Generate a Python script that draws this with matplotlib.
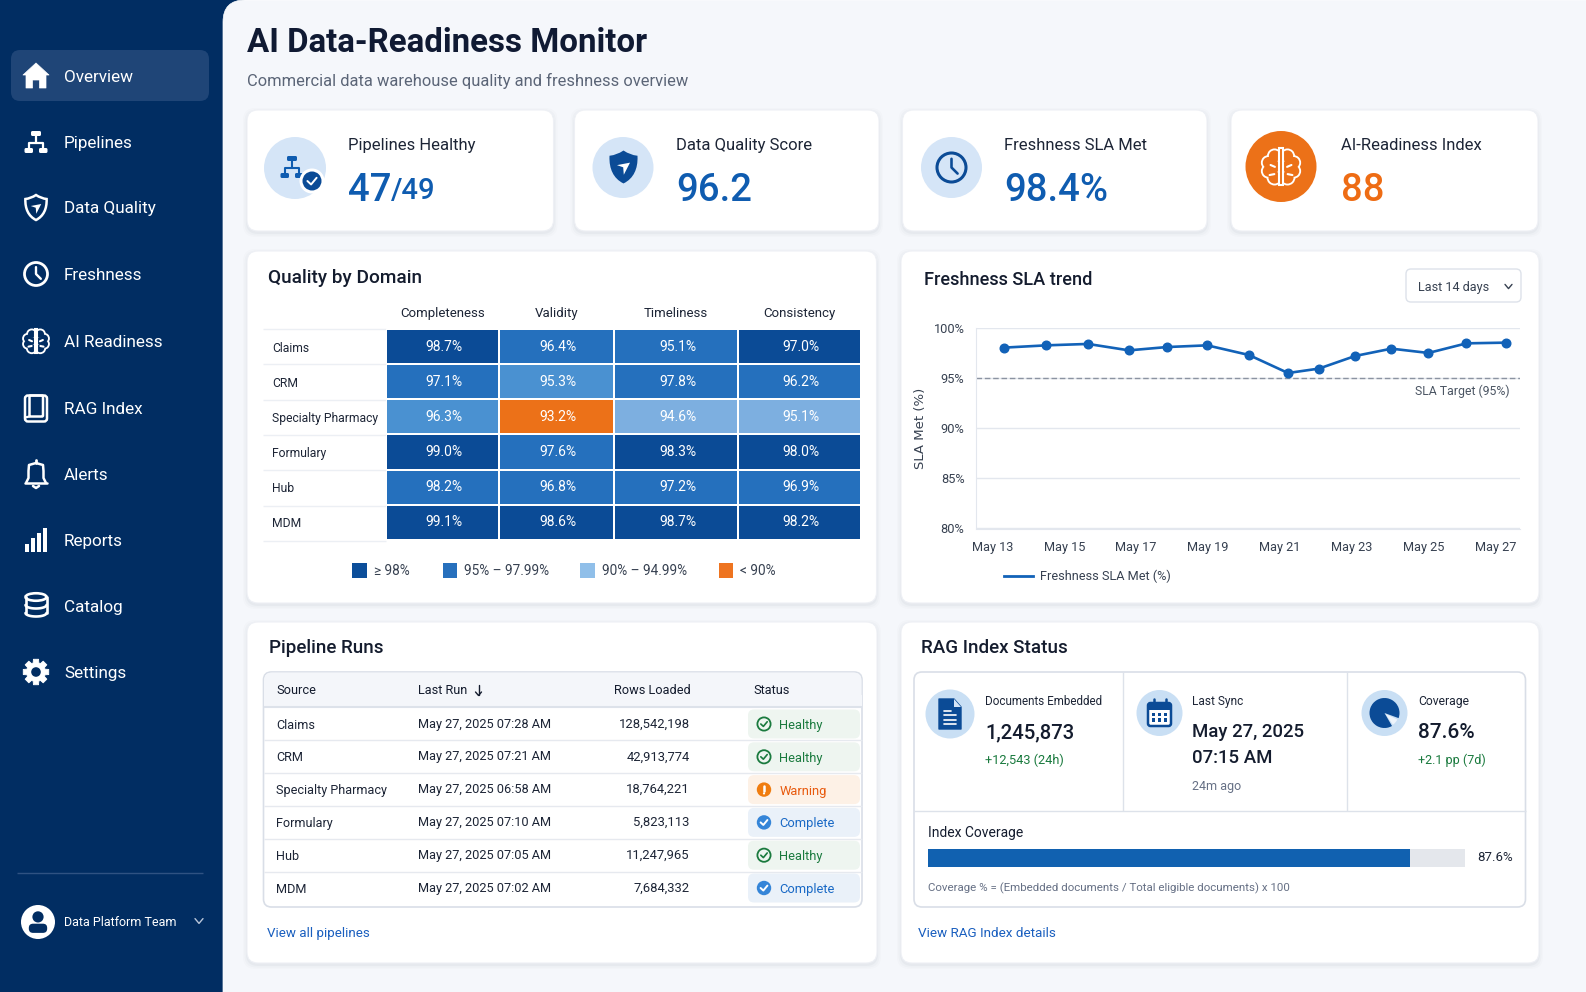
import numpy as np
import matplotlib
matplotlib.use('Agg')
import matplotlib.pyplot as plt
from matplotlib.colors import ListedColormap
from matplotlib.lines import Line2D
from matplotlib.patches import Circle, Ellipse, FancyBboxPatch, PathPatch, Polygon, Rectangle, Wedge
from matplotlib.path import Path

plt.rcParams['font.family'] = ['Roboto', 'DejaVu Sans']

# data
nav_items = ['Overview', 'Pipelines', 'Data Quality', 'Freshness', 'AI Readiness',
             'RAG Index', 'Alerts', 'Reports', 'Catalog', 'Settings']

kpi_labels = ['Pipelines Healthy', 'Data Quality Score', 'Freshness SLA Met', 'AI-Readiness Index']
kpi_values = ['47', '96.2', '98.4%', '88']

domains = ['Claims', 'CRM', 'Specialty Pharmacy', 'Formulary', 'Hub', 'MDM']
dimensions = ['Completeness', 'Validity', 'Timeliness', 'Consistency']
quality = [[98.7, 96.4, 95.1, 97.0],
           [97.1, 95.3, 97.8, 96.2],
           [96.3, 93.2, 94.6, 95.1],
           [99.0, 97.6, 98.3, 98.0],
           [98.2, 96.8, 97.2, 96.9],
           [99.1, 98.6, 98.7, 98.2]]
# shade seen in each cell, does not follow the legend bins exactly
cell_shade = [[0, 1, 1, 0],
              [1, 2, 1, 1],
              [2, 4, 3, 3],
              [0, 1, 0, 0],
              [1, 1, 1, 1],
              [0, 0, 0, 0]]
shade_colors = ['#0b4b96', '#2570bd', '#4a91d1', '#7dafe0', '#ec7118']
legend_labels = ['\u2265 98%', '95% \u2013 97.99%', '90% \u2013 94.99%', '< 90%']
legend_colors = ['#0c4e9a', '#2770bd', '#90bfe9', '#ee7420']

trend_day = [13.31, 14.50, 15.66, 16.80, 17.86, 18.98, 20.14, 21.23, 22.09, 23.10, 24.11, 25.14, 26.20, 27.30]
trend_pct = [98.04, 98.27, 98.41, 97.77, 98.10, 98.27, 97.31, 95.51, 95.95, 97.21, 97.94, 97.51, 98.47, 98.54]
tick_days = [13, 15, 17, 19, 21, 23, 25, 27]
tick_pcts = [80, 85, 90, 95, 100]
sla_target = 95

sources = ['Claims', 'CRM', 'Specialty Pharmacy', 'Formulary', 'Hub', 'MDM']
last_runs = ['May 27, 2025 07:28 AM', 'May 27, 2025 07:21 AM', 'May 27, 2025 06:58 AM',
             'May 27, 2025 07:10 AM', 'May 27, 2025 07:05 AM', 'May 27, 2025 07:02 AM']
rows_loaded = ['128,542,198', '42,913,774', '18,764,221', '5,823,113', '11,247,965', '7,684,332']
run_status = ['Healthy', 'Healthy', 'Warning', 'Complete', 'Healthy', 'Complete']

coverage_pct = 87.6
# the fill ends about 90% along the track in the picture
coverage_track = 97.6

W, H = 1586, 992
NAVY = '#012d62'
BG = '#f5f7fb'
INK = '#141c2e'
BLUE = '#0f5cb0'
ORANGE = '#ee6c14'
GREEN = '#1a7a3e'
GRAY = '#667085'
LINE = '#e3e7ee'
ICON_BG = '#d5e5f7'

fig = plt.figure(figsize=(W / 100, H / 100), dpi=100, facecolor=NAVY)
canvas = fig.add_axes([0, 0, 1, 1])
canvas.set_xlim(0, W)
canvas.set_ylim(H, 0)
canvas.axis('off')
canvas.autoscale(False)


def axes_px(x0, y0, x1, y1):
    return fig.add_axes([x0 / W, 1 - y1 / H, (x1 - x0) / W, (y1 - y0) / H])


def text(x, y, s, size, color=INK, weight='normal', ha='left', **kw):
    # va center sits a little high for this font, push it down with the size
    return canvas.text(x, y + 0.11 * size, s, fontsize=size, color=color, weight=weight, ha=ha, va='center', **kw)


def rbox(x0, y0, x1, y1, r, fc, ec='none', lw=1, z=1, alpha=None):
    p = FancyBboxPatch((x0 + r, y0 + r), x1 - x0 - 2 * r, y1 - y0 - 2 * r,
                       boxstyle=f'round,pad={r},rounding_size={r}',
                       fc=fc, ec=ec, lw=lw, zorder=z, alpha=alpha)
    canvas.add_patch(p)
    return p


def card(x0, y0, x1, y1):
    for grow, a in ((4, 0.012), (2.5, 0.02), (1, 0.03)):
        rbox(x0 - grow, y0 - grow + 2, x1 + grow, y1 + grow + 2, 12, '#1b2a4a', z=1, alpha=a)
    rbox(x0, y0, x1, y1, 11, 'white', '#eef0f5', 0.8, z=2)


def stroke(xs, ys, color, lw=1.6, z=5, cap='round'):
    canvas.plot(xs, ys, color=color, lw=lw, zorder=z, solid_capstyle=cap, solid_joinstyle='round')


def dot(x, y, r, fc, ec='none', lw=1, z=5):
    canvas.add_patch(Circle((x, y), r, fc=fc, ec=ec, lw=lw, zorder=z))


def chevron(x, y, s, color, lw=1):
    stroke([x - s, x, x + s], [y - s * 0.6, y + s * 0.6, y - s * 0.6], color, lw)


def check(x, y, s, color, lw=1.4, z=6):
    stroke([x - s, x - s * 0.2, x + s], [y, y + s * 0.75, y - s * 0.7], color, lw, z)


# icons, all drawn around a centre point in pixels
def icon_house(x, y, c):
    canvas.add_patch(Polygon([(x - 13, y - 1), (x, y - 13), (x + 13, y - 1), (x + 10, y - 1), (x + 10, y + 12),
                              (x + 3.5, y + 12), (x + 3.5, y + 4), (x - 3.5, y + 4), (x - 3.5, y + 12),
                              (x - 10, y + 12), (x - 10, y - 1)], fc=c, ec=c, lw=0.5, joinstyle='round', zorder=5))


def icon_pipeline(x, y, c, s=1.0, lw=1.6):
    rbox(x - 5 * s, y - 11 * s, x + 5 * s, y - 6 * s, 1.5 * s, c, z=5)
    rbox(x - 11.5 * s, y + 6 * s, x - 3 * s, y + 11 * s, 1.5 * s, c, z=5)
    rbox(x + 3 * s, y + 6 * s, x + 11.5 * s, y + 11 * s, 1.5 * s, c, z=5)
    stroke([x, x], [y - 6 * s, y + 1 * s], c, lw)
    stroke([x - 7 * s, x - 7 * s, x + 7 * s, x + 7 * s], [y + 6 * s, y + 1 * s, y + 1 * s, y + 6 * s], c, lw)


def shield_path(x, y, s):
    v = [(0, -1), (.42, -.72), (.85, -.68), (.88, .1), (.6, .7), (0, 1),
         (-.6, .7), (-.88, .1), (-.85, -.68), (-.42, -.72), (0, -1), (0, -1)]
    codes = [Path.MOVETO, Path.CURVE3, Path.CURVE3, Path.CURVE4, Path.CURVE4, Path.CURVE4,
             Path.CURVE4, Path.CURVE4, Path.CURVE4, Path.CURVE3, Path.CURVE3, Path.CLOSEPOLY]
    return Path([(x + a * s, y + b * s) for a, b in v], codes)


def icon_shield(x, y, c, s=12.5, lw=1.8, filled=False):
    canvas.add_patch(PathPatch(shield_path(x, y, s), fc=c if filled else 'none', ec=c, lw=lw, zorder=5))
    mark = 'white' if filled else c
    canvas.add_patch(Polygon([(x - s * .42, y - s * .12), (x + s * .42, y - s * .28), (x + s * .02, y + s * .5),
                              (x - s * .02, y + s * .02)], fc=mark, ec='none', zorder=6))


def icon_clock(x, y, c, r=11.5, lw=2):
    dot(x, y, r, 'none', c, lw)
    stroke([x, x, x + r * .42], [y - r * .6, y, y + r * .42], c, lw * 0.85)


def icon_brain(x, y, s, fg, bg, lw=1.5):
    lobes = [(.34, -.55, .3), (.66, -.2, .3), (.66, .24, .3), (.34, .58, .32), (.3, 0, .3)]
    gap = lw * 1.25
    for sign in (-1, 1):
        for a, b, r in lobes:
            dot(x + sign * a * s, y + b * s, r * s + gap, fg, z=5)
    for sign in (-1, 1):
        for a, b, r in lobes:
            dot(x + sign * a * s, y + b * s, r * s, bg, z=6)
    canvas.add_patch(Rectangle((x - .1 * s, y - .95 * s), .2 * s, 1.9 * s, fc=bg, ec=fg, lw=lw, zorder=7))
    for sign in (-1, 1):
        stroke([x + sign * .55 * s, x + sign * .32 * s], [y - .08 * s, y + .02 * s], fg, lw, 7)
        stroke([x + sign * .6 * s, x + sign * .35 * s], [y + .45 * s, y + .4 * s], fg, lw, 7)


def icon_book(x, y, c):
    rbox(x - 11, y - 13, x + 11, y + 13, 3, 'none', c, 1.8, z=5)
    rbox(x - 6.5, y - 13, x + 7, y + 8, 1, 'none', c, 1.8, z=5)
    stroke([x - 11, x - 6.5], [y + 9, y + 8], c, 1.6)


def icon_bell(x, y, c):
    v = [(-9.5, 8), (-7.5, 4), (-7.5, -3), (-7, -9), (0, -11), (7, -9), (7.5, -3), (7.5, 4), (9.5, 8)]
    canvas.plot([x + a for a, b in v], [y + b for a, b in v], color=c, lw=1.8, zorder=5)
    stroke([x - 11, x + 11], [y + 8.5, y + 8.5], c, 1.8)
    stroke([x, x], [y - 14, y - 11.5], c, 2)
    stroke([x - 3, x, x + 3], [y + 12, y + 14, y + 12], c, 1.8)


def icon_bars(x, y, c):
    for dx, h in zip((-9, -3, 3, 9), (8, 14, 19, 24)):
        canvas.add_patch(Rectangle((x + dx - 1.7, y + 12 - h), 3.4, h, fc=c, ec='none', zorder=5))


def icon_db(x, y, c):
    canvas.add_patch(Ellipse((x, y - 9), 21, 7.5, fc='none', ec=c, lw=1.9, zorder=5))
    for dy in (-1, 7):
        t = np.linspace(0, np.pi, 24)
        stroke(x + 10.5 * np.cos(t), y + dy + 3.5 * np.sin(t), c, 1.9)
    stroke([x - 10.5, x - 10.5], [y - 9, y + 7], c, 1.9)
    stroke([x + 10.5, x + 10.5], [y - 9, y + 7], c, 1.9)


def icon_gear(x, y, c, bg):
    n = 8
    pts = []
    for i in range(n):
        a = 2 * np.pi * i / n
        for da, r in ((-.30, 9.5), (-.20, 13), (.20, 13), (.30, 9.5)):
            pts.append((x + r * np.cos(a + da), y + r * np.sin(a + da)))
    canvas.add_patch(Polygon(pts, fc=c, ec=c, lw=0.6, zorder=5, joinstyle='round'))
    dot(x, y, 4.8, bg, z=6)


def icon_doc(x, y):
    canvas.add_patch(Polygon([(x - 11, y - 15), (x + 4, y - 15), (x + 11, y - 7), (x + 11, y + 15), (x - 11, y + 15)],
                             fc='#0b4b96', ec='#0b4b96', lw=1, joinstyle='round', zorder=5))
    canvas.add_patch(Polygon([(x + 4, y - 15), (x + 11, y - 7), (x + 4, y - 7)], fc='#d5e5f7', ec='none', zorder=6))
    for dy, x1 in ((-3, 1), (1, 6), (5.5, 6), (10, 6)):
        stroke([x - 6, x + x1], [y + dy, y + dy], 'white', 1.2, 6)


def icon_calendar(x, y):
    rbox(x - 11.5, y - 10, x + 11.5, y + 13, 2.5, 'white', '#0b4b96', 1.8, z=5)
    canvas.add_patch(Rectangle((x - 11.5, y - 9), 23, 6, fc='#0b4b96', ec='none', zorder=6))
    stroke([x - 6, x - 6], [y - 14, y - 9], '#0b4b96', 1.8)
    stroke([x + 6, x + 6], [y - 14, y - 9], '#0b4b96', 1.8)
    for dy in (1.5, 7):
        for dx in (-6, 0, 6):
            canvas.add_patch(Rectangle((x + dx - 1.7, y + dy - 1.7), 3.4, 3.4, fc='#0b4b96', ec='none', zorder=6))


def icon_user(x, y, r):
    dot(x, y, r, 'white')
    dot(x, y - r * .3, r * .33, NAVY, z=6)
    canvas.add_patch(FancyBboxPatch((x - r * .42, y + r * .22), r * .84, r * .3,
                                    boxstyle=f'round,pad={r * .12},rounding_size={r * .25}',
                                    fc=NAVY, ec='none', zorder=6))


# page background and sidebar
canvas.add_patch(FancyBboxPatch((245, 22), W, H, boxstyle='round,pad=22,rounding_size=22',
                                fc=BG, ec='#ffffff', lw=0.5, zorder=0.5))
rbox(11, 50, 209, 101, 9, '#1f4577', z=1)
nav_y = [76, 142, 207, 274, 341, 408.5, 474, 540, 606, 672]
for label, y in zip(nav_items, nav_y):
    text(64, y, label, 12.3, color='white')
icon_house(36, 76, 'white')
icon_pipeline(36, 142, 'white')
icon_shield(36, 207.5, 'white')
icon_clock(36, 274, 'white')
icon_brain(36, 341, 12.5, 'white', NAVY)
icon_book(36, 408.5, 'white')
icon_bell(36, 474, 'white')
icon_bars(36, 540, 'white')
icon_db(36, 606, 'white')
icon_gear(36, 672, 'white', NAVY)
stroke([17, 203], [873, 873], '#2f5282', 1, cap='butt')
icon_user(38, 922, 17)
text(64, 922, 'Data Platform Team', 9, color='white')
chevron(199, 921, 4, '#b9c6da')

# header
text(247, 40.5, 'AI Data-Readiness Monitor', 23.8, color='#101a33', weight='bold')
text(247, 80, 'Commercial data warehouse quality and freshness overview', 11.9, color='#5b6577')

# kpi cards
kpi_boxes = [(247, 553.5), (574.5, 879), (902.5, 1207), (1231, 1538)]
kpi_text_x = [348, 676, 1004, 1341]
kpi_colors = [BLUE, BLUE, BLUE, ORANGE]
for (x0, x1), tx, label, value, col in zip(kpi_boxes, kpi_text_x, kpi_labels, kpi_values, kpi_colors):
    card(x0, 110, x1, 231)
    text(tx, 144.5, label, 12, color='#1d2536')
    text(tx, 187, value, 27.5, color=col, weight='medium')
text(391, 189, '/49', 21, color=BLUE, weight='medium')

dot(295, 168, 31, ICON_BG, z=3)
icon_pipeline(292, 167, BLUE, 1.0, 1.5)
dot(312, 181, 12.5, 'white', z=6)
dot(312, 181, 9.5, '#0b4b96', z=7)
check(312, 181, 4.6, 'white', 1.4, 8)
dot(623, 167.5, 30.5, ICON_BG, z=3)
icon_shield(623.5, 167, '#0b4b96', 15.5, 1.2, filled=True)
dot(951.5, 167.5, 30.5, ICON_BG, z=3)
icon_clock(951.5, 167.5, '#0b4b96', 14.5, 2.2)
dot(1281, 166.5, 35.5, '#ec7118', z=3)
icon_brain(1281, 166.5, 19, 'white', '#ec7118', 1.5)

# quality heatmap
card(247, 251, 876.5, 603)
text(268, 276.5, 'Quality by Domain', 13.7, weight='medium')
heat_ax = axes_px(386, 329, 861, 540)
col_edges = [0, 113, 228, 352, 475]
row_edges = np.arange(len(domains) + 1)
heat_ax.pcolormesh(col_edges, row_edges, np.array(cell_shade), cmap=ListedColormap(shade_colors),
                   vmin=-0.5, vmax=4.5, edgecolors='white', linewidth=1.4)
heat_ax.set_xlim(0, 475)
heat_ax.set_ylim(len(domains), 0)
col_mid = [(col_edges[j] + col_edges[j + 1]) / 2 for j in range(len(dimensions))]
for i, row in enumerate(quality):
    for j, val in enumerate(row):
        heat_ax.text(col_mid[j] + 1.5, i + 0.5, f'{val:.1f}%', ha='center', va='center', color='white', fontsize=10)
heat_ax.xaxis.tick_top()
heat_ax.set_xticks(col_mid, dimensions, fontsize=9.5, color='#1d2536')
heat_ax.set_yticks(row_edges[:-1] + 0.5, domains, fontsize=8.7, color='#1d2536', ha='left')
heat_ax.tick_params(axis='x', length=0, pad=6.5)
heat_ax.tick_params(axis='y', length=0, pad=82)
for s in heat_ax.spines.values():
    s.set_visible(False)
for y in (328.5, 364, 399.5, 435, 470, 505.5, 540.5):
    stroke([263, 386], [y, y], '#eceff4', 1, cap='butt')
legend_x = [352, 442.5, 580, 718.5]
legend_tx = [373.5, 464, 601.5, 740]
for x, tx, c, label in zip(legend_x, legend_tx, legend_colors, legend_labels):
    canvas.add_patch(Rectangle((x, 563), 14.5, 14.5, fc=c, ec='none', zorder=5))
    text(tx, 569.5, label, 9.8, color='#374151', zorder=5)

# freshness trend
card(901, 251, 1539, 603)
text(923.5, 278.5, 'Freshness SLA trend', 13.1, weight='medium', zorder=5)
rbox(1406, 269, 1521, 302, 5, 'white', '#dde2ea', 1, z=3)
text(1417.5, 286, 'Last 14 days', 9.1, color='#374151', zorder=5)
chevron(1508.5, 286.5, 3.5, '#374151')

trend_ax = axes_px(975.5, 328, 1520, 528.5)
trend_ax.patch.set_alpha(0)
trend_ax.set_xlim(12.527, 27.69)
trend_ax.set_ylim(80, 100)
trend_ax.set_yticks(tick_pcts, [f'{v}%' for v in tick_pcts], fontsize=9.2, color='#374151')
trend_ax.set_xticks(tick_days, [f'May {d}' for d in tick_days], fontsize=9.2, color='#374151')
trend_ax.tick_params(axis='both', length=0)
trend_ax.tick_params(axis='y', pad=8)
trend_ax.tick_params(axis='x', pad=9)
trend_ax.grid(axis='y', color=LINE, lw=1)
trend_ax.set_axisbelow(True)
for side in ('top', 'right'):
    trend_ax.spines[side].set_visible(False)
for side in ('left', 'bottom'):
    trend_ax.spines[side].set_color(LINE)
trend_ax.axhline(sla_target, color='#8b93a1', lw=1, ls=(0, (4, 2)))
trend_ax.plot(trend_day, trend_pct, color='#1262b8', lw=1.9, marker='o', ms=6.2, clip_on=False)
trend_ax.text(0.981, 0.683, 'SLA Target (95%)', transform=trend_ax.transAxes, ha='right', va='center',
              fontsize=8.8, color='#4b5563')
trend_ax.set_ylabel('SLA Met (%)', fontsize=9.5, color='#374151', family='DejaVu Sans')
trend_ax.yaxis.set_label_coords((927 - 975.5) / (1520 - 975.5), 0.5)
trend_ax.legend(handles=[Line2D([], [], color='#1262b8', lw=2, label='Freshness SLA Met (%)')],
                loc='center left', bbox_to_anchor=(1004, 576.5), bbox_transform=canvas.transData,
                frameon=False, fontsize=9.2, labelcolor='#374151', borderpad=0, borderaxespad=0,
                handlelength=2.25, handletextpad=0.6)

# pipeline runs table
card(247, 622, 877, 963)
text(269, 647, 'Pipeline Runs', 13.5, weight='medium', zorder=5)
rbox(263.5, 672, 862, 907, 8, 'white', '#d9dee7', 1.2, z=3)
rbox(264, 672.5, 861.5, 708, 8, '#f4f6fa', z=3)
canvas.add_patch(Rectangle((264, 695), 597.5, 12, fc='#f4f6fa', ec='none', zorder=3))
stroke([264, 861.5], [707, 707], '#dde2ea', 1.5, z=4, cap='butt')
text(276, 689.5, 'Source', 9.2, zorder=5)
text(418, 689.5, 'Last Run', 9.2, zorder=5)
stroke([478.5, 478.5], [685, 695], INK, 1)
stroke([475.5, 478.5, 481.5], [692, 695.5, 692], INK, 1)
text(690.5, 689.5, 'Rows Loaded', 9.2, ha='right', zorder=5)
text(753, 689.5, 'Status', 9.2, zorder=5)

status_style = {'Healthy': ('#eef5f0', GREEN), 'Warning': ('#fdf1e6', '#e8590c'), 'Complete': ('#eaf1f9', '#1868c5')}
row_h = 32.8
for i, (src, run, n, st) in enumerate(zip(sources, last_runs, rows_loaded, run_status)):
    y = 724 + i * row_h
    if i:
        stroke([264, 861.5], [y - row_h / 2, y - row_h / 2], '#e6e9ef', 1, z=4, cap='butt')
    text(276, y, src, 9.1, color='#1d2536', zorder=5)
    text(418, y - 1, run, 9.2, color='#1d2536', zorder=5)
    text(689.5, y - 1, n, 9.4, color='#1d2536', ha='right', zorder=5)
    fill, col = status_style[st]
    rbox(748, y - 14.5, 860, y + 14.5, 6, fill, z=4)
    text(779.5, y + 0.5, st, 9.3, color=col, zorder=6)
    if st == 'Healthy':
        dot(764, y, 6.6, 'none', col, 1.3, z=6)
        check(764, y, 3.2, col, 1.2)
    elif st == 'Warning':
        dot(764, y, 7.2, '#f07d10', z=6)
        stroke([764, 764], [y - 3.8, y + 1], 'white', 1.8, 7)
        dot(764, y + 3.8, 1.1, 'white', z=7)
    else:
        dot(764, y, 7.2, '#3585d8', z=6)
        check(764, y, 3.4, 'white', 1.4, 7)
text(267, 932, 'View all pipelines', 9.6, color='#1a5fbf', zorder=5)

# rag index status
card(901, 622, 1539, 963)
text(921, 647, 'RAG Index Status', 13.5, weight='medium', zorder=5)
rbox(914, 672, 1525.5, 907, 8, 'white', '#d9dee7', 1.2, z=3)
stroke([1123, 1123], [672, 811], '#dde2ea', 1, z=4, cap='butt')
stroke([1347, 1347], [672, 811], '#dde2ea', 1, z=4, cap='butt')
stroke([914, 1525.5], [811, 811], '#dde2ea', 1, z=4, cap='butt')

dot(950, 714, 24.5, '#c9dff4', z=4)
icon_doc(950, 714)
text(985, 701, 'Documents Embedded', 8.4, color='#1d2536', zorder=5)
text(985, 731, '1,245,873', 14.6, weight='medium', zorder=5)
text(985, 759, '+12,543 (24h)', 9.2, color=GREEN, zorder=5)

dot(1159.5, 713, 23, '#c9dff4', z=4)
icon_calendar(1159.5, 713)
text(1191.5, 701, 'Last Sync', 8.6, color='#1d2536', zorder=5)
text(1191.5, 731, 'May 27, 2025', 13.4, weight='medium', zorder=5)
text(1191.5, 757, '07:15 AM', 13.4, weight='medium', zorder=5)
text(1191.5, 786, '24m ago', 9, color=GRAY, zorder=5)

dot(1384.5, 713, 23, '#c9dff4', z=4)
canvas.add_patch(Wedge((1384.5, 713), 15, 60, 380, fc='#0b4b96', ec='none', zorder=5))
canvas.add_patch(Wedge((1385.5, 714), 13, 25, 55, fc='#eef4fb', ec='none', zorder=5))
text(1418, 701, 'Coverage', 8.7, color='#1d2536', zorder=5)
text(1418, 731, '87.6%', 15, weight='medium', zorder=5)
text(1418, 759, '+2.1 pp (7d)', 9, color=GREEN, zorder=5)

text(928, 832, 'Index Coverage', 10, zorder=5)
bar_ax = axes_px(928, 849, 1465, 867)
bar_ax.axis('off')
bar_ax.set_xlim(0, coverage_track)
bar_ax.set_ylim(-0.5, 0.5)
bar_ax.barh(0, coverage_track, height=1, color='#e4e7ec')
bar_ax.barh(0, coverage_pct, height=1, color='#1161b0')
text(1477.5, 856, f'{coverage_pct}%', 9.5, color='#1d2536', zorder=5)
text(928, 887, 'Coverage % = (Embedded documents / Total eligible documents) x 100', 8.25, color=GRAY, zorder=5)
text(918.5, 932, 'View RAG Index details', 9.7, color='#1a5fbf', zorder=5)

fig.savefig('out.png', dpi=100, facecolor=NAVY)
